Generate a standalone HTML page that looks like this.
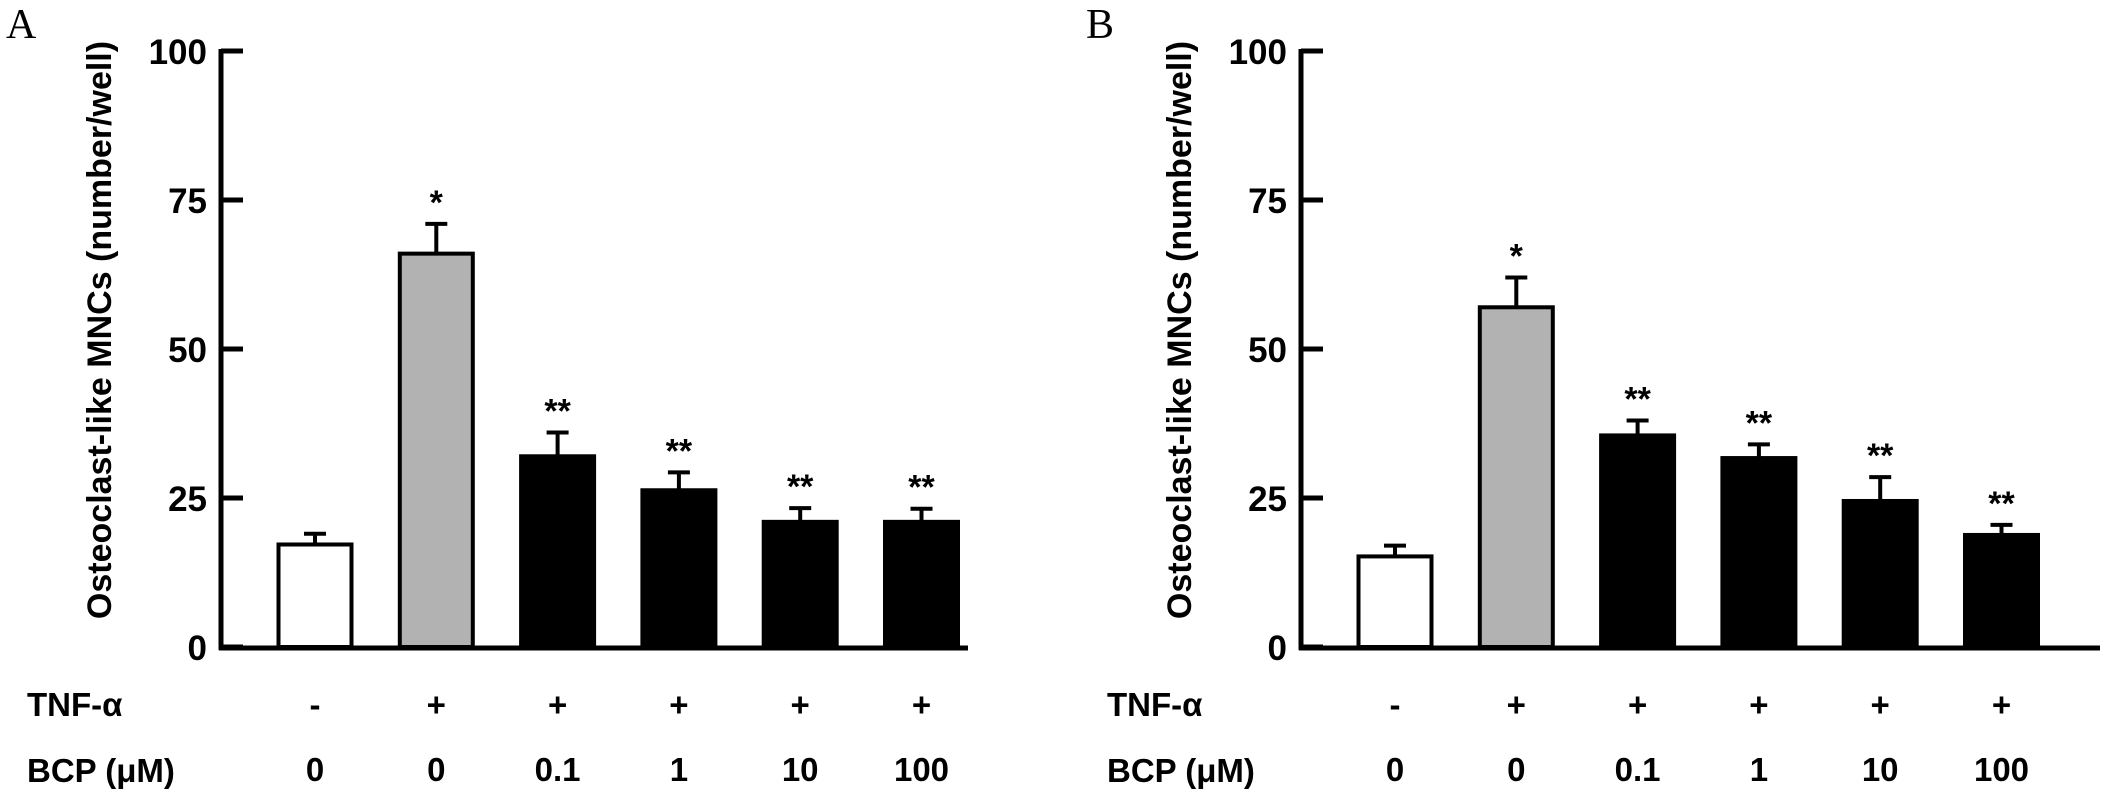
<!DOCTYPE html>
<html><head><meta charset="utf-8"><style>
html,body{margin:0;padding:0;background:#fff;}
svg{display:block;}
text{font-family:"Liberation Sans",Arial,sans-serif;font-weight:bold;fill:#000;}
.narrow{font-family:"Liberation Sans Narrow","Liberation Sans",sans-serif;}
.serif{font-family:"Liberation Serif",serif;font-weight:normal;}
</style></head><body>
<svg id="chart" width="2126" height="800" viewBox="0 0 2126 800" xmlns="http://www.w3.org/2000/svg"></svg>
<script>
const tnfLabels = ["-", "+", "+", "+", "+", "+"];
const bcpLabels = ["0", "0", "0.1", "1", "10", "100"];
const yTicks = [0, 25, 50, 75, 100];
const valuesA = [17.2, 66, 32, 26.3, 21, 21];
const errorsA = [1.8, 5, 4, 3, 2.3, 2.2];
const starsA = ["", "*", "**", "**", "**", "**"];
const valuesB = [15.2, 57, 35.5, 31.7, 24.5, 18.8];
const errorsB = [1.8, 5, 2.5, 2.3, 4, 1.7];
const starsB = ["", "*", "**", "**", "**", "**"];
const fills = ["#fff", "#b2b2b2", "#000", "#000", "#000", "#000"];

const svg = document.getElementById('chart');
const NS = "http://www.w3.org/2000/svg";
function mk(tag, attrs, parent) {
  const e = document.createElementNS(NS, tag);
  for (const k in attrs) e.setAttribute(k, attrs[k]);
  (parent || svg).appendChild(e);
  return e;
}
const y0 = 647, y100 = 51;
function yScale(v) { return y0 - (v / 100) * (y0 - y100); }

function panel(off, letter, values, errors, stars, id, axEnd) {
  const g = mk('g', {});
  
  
  const axX = 221 + off;
  function xCenter(i) { return 315 + off + i * 121.3; }
  const bw = 73;

  const L = mk('text', {x: 6 + off, y: 38, 'font-size': 42, class: 'serif'}, g);
  L.textContent = letter;
  
  

  const yt = mk('text', {x: 0, y: 0, 'font-size': 34, 'text-anchor': 'middle', transform: `translate(${111 + off},330) rotate(-90)`}, g);
  yt.textContent = "Osteoclast-like MNCs (number/well)";
  
  

  const ya = mk('line', {x1: axX, y1: y100 - 2, x2: axX, y2: y0 + 3, stroke: '#000', 'stroke-width': 5}, g);
  
  
  const xa = mk('line', {x1: axX - 2, y1: y0 + 1, x2: axEnd, y2: y0 + 1, stroke: '#000', 'stroke-width': 5}, g);
  
  

  yTicks.forEach(t => {
    const yy = yScale(t);
    const tk = mk('line', {x1: axX, y1: yy, x2: axX + 22, y2: yy, stroke: '#000', 'stroke-width': 5}, g);
    
    
    const tl = mk('text', {x: axX - 14, y: yy + 13, 'font-size': 35, 'text-anchor': 'end', class: 'narrow'}, g);
    tl.textContent = t;
    
    
  });

  values.forEach((v, i) => {
    const cx = xCenter(i);
    const top = yScale(v);
    const et = yScale(v + errors[i]);
    const eb = mk('line', {x1: cx, y1: et, x2: cx, y2: top, stroke: '#000', 'stroke-width': 4}, g);
    
    
    const cap = mk('line', {x1: cx - 11, y1: et, x2: cx + 11, y2: et, stroke: '#000', 'stroke-width': 4}, g);
    
    
    const r = mk('rect', {x: cx - bw / 2, y: top, width: bw, height: y0 - top, fill: fills[i], stroke: '#000', 'stroke-width': 4}, g);
    
    
    if (stars[i]) {
      const s = mk('text', {x: cx, y: et - 10, 'font-size': 34, 'text-anchor': 'middle'}, g);
      s.textContent = stars[i];
      
      
    }
    const tn = mk('text', {x: cx, y: 716, 'font-size': 33, 'text-anchor': 'middle', class: 'narrow'}, g);
    tn.textContent = tnfLabels[i];
    
    
    const bc = mk('text', {x: cx, y: 781, 'font-size': 33, 'text-anchor': 'middle', class: 'narrow'}, g);
    bc.textContent = bcpLabels[i];
    
    
  });

  const tr = mk('text', {x: 27 + off, y: 716, 'font-size': 33, class: 'narrow'}, g);
  tr.textContent = "TNF-α";
  
  
  const br = mk('text', {x: 27 + off, y: 782, 'font-size': 33, class: 'narrow'}, g);
  br.textContent = "BCP (μM)";
  
  
}
panel(0, "A", valuesA, errorsA, starsA, 'a', 968);
panel(1080, "B", valuesB, errorsB, starsB, 'b', 2100);
</script>
</body></html>
